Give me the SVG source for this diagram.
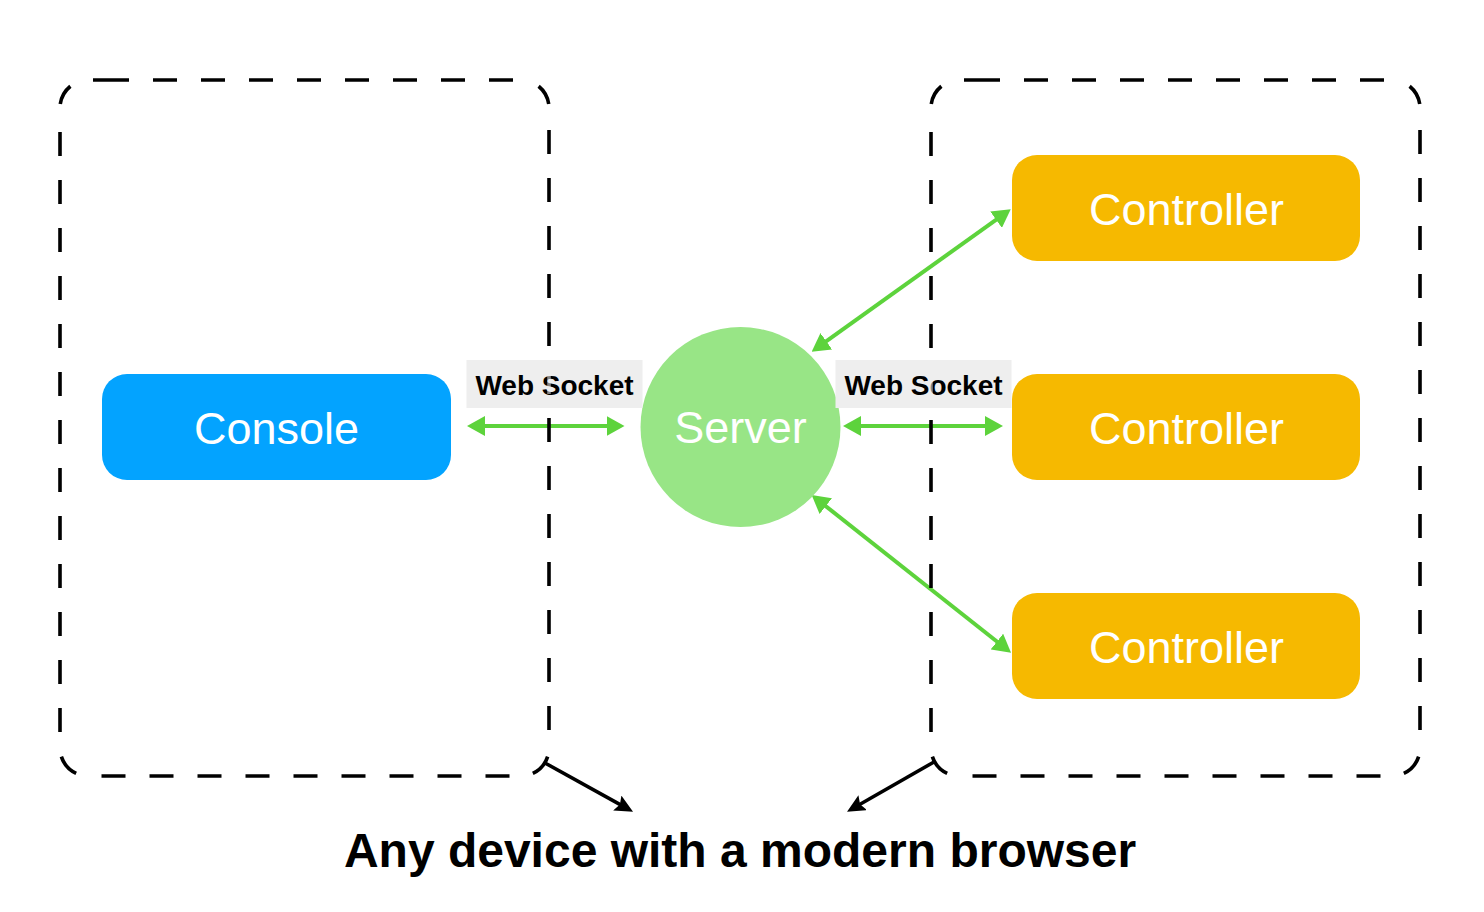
<svg xmlns="http://www.w3.org/2000/svg" xmlns:xlink="http://www.w3.org/1999/xlink" width="1484" height="912" viewBox="0 0 1484 912">
<style>
.box{fill:none;stroke:#000;stroke-width:3.6;stroke-linecap:butt}
.ws{fill:none;stroke:#5DD33C;stroke-width:4}
.bk{fill:none;stroke:#000;stroke-width:3.6}
.lbl{fill:#EEEEEE}
.lt{font-family:"Liberation Sans",Arial,sans-serif;font-weight:bold;font-size:28px;fill:#000;text-anchor:middle}
.nt{font-family:"Liberation Sans",Arial,sans-serif;font-size:45px;fill:#fff;text-anchor:middle}
.ghost{stroke:#EEEEEE;stroke-opacity:0.55;stroke-width:3.6}
</style>
<defs>
<marker id="gh" markerUnits="userSpaceOnUse" viewBox="0 0 18 20" markerWidth="18" markerHeight="20" refX="8" refY="10" orient="auto-start-reverse">
<path d="M0,0 L18,10 L0,20 Z" fill="#5DD33C"/>
</marker>
<marker id="bh" markerUnits="userSpaceOnUse" viewBox="0 0 18 17" markerWidth="18" markerHeight="17" refX="8" refY="8.5" orient="auto">
<path d="M0,0 L18,8.5 L0,17 L3,8.5 Z" fill="#000"/>
</marker>
<path id="dbox" class="box" d="M93,80H129 M153,80H177 M201,80H225 M249,80H273 M297,80H321 M345,80H369 M393,80H417 M441,80H465 M489,80H513
M60,132V156 M60,180V204 M60,228V252 M60,276V300 M60,324V348 M60,372V396 M60,420V444 M60,468V492 M60,516V540 M60,564V588 M60,612V636 M60,660V684 M60,708V732
M549,130V154 M549,178V202 M549,226V250 M549,274V298 M549,322V346 M549,370V394 M549,418V442 M549,466V490 M549,514V538 M549,562V586 M549,610V634 M549,658V682 M549,706V730
M101.5,776H125.5 M149.5,776H173.5 M197.5,776H221.5 M245.5,776H269.5 M293.5,776H317.5 M341.5,776H365.5 M389.5,776H413.5 M437.5,776H461.5 M485.5,776H509.5
M60.27,104.1 A28,28 0 0 1 70.39,86.24
M538.61,86.24 A28,28 0 0 1 548.73,104.1
M76.17,773.38 A28,28 0 0 1 61.37,756.65
M547.63,756.65 A28,28 0 0 1 532.83,773.38"/>
</defs>
<rect width="1484" height="912" fill="#fff"/>

<g id="connectors">
<line class="ws" x1="477" y1="426" x2="614.5" y2="426" marker-start="url(#gh)" marker-end="url(#gh)"/>
<line class="ws" x1="853" y1="426" x2="993" y2="426" marker-start="url(#gh)" marker-end="url(#gh)"/>
<line class="ws" x1="819.8" y1="345.9" x2="1002.6" y2="215.1" marker-start="url(#gh)" marker-end="url(#gh)"/>
<line class="ws" x1="819.5" y1="501.2" x2="1003.2" y2="646.5" marker-start="url(#gh)" marker-end="url(#gh)"/>
<line class="bk" x1="545" y1="763" x2="624.3" y2="806.9" marker-end="url(#bh)"/>
<line class="bk" x1="934" y1="762" x2="855.7" y2="806.7" marker-end="url(#bh)"/>
</g>

<g id="device-left">
<use xlink:href="#dbox" href="#dbox"/>
</g>
<g id="device-right">
<use xlink:href="#dbox" href="#dbox" transform="translate(871,0)"/>
</g>

<g id="console">
<rect x="102" y="374" width="349" height="106" rx="25" ry="25" fill="#03A3FF"/>
<text class="nt" x="276.5" y="443.5">Console</text>
</g>

<g id="server">
<circle cx="740.5" cy="427" r="100" fill="#98E586"/>
<text class="nt" x="740.5" y="443">Server</text>
</g>

<g id="controller-1">
<rect x="1012" y="155" width="348" height="106" rx="25" ry="25" fill="#F6B900"/>
<text class="nt" x="1186.5" y="224.5">Controller</text>
</g>
<g id="controller-2">
<rect x="1012" y="374" width="348" height="106" rx="25" ry="25" fill="#F6B900"/>
<text class="nt" x="1186.5" y="443.5">Controller</text>
</g>
<g id="controller-3">
<rect x="1012" y="593" width="348" height="106" rx="25" ry="25" fill="#F6B900"/>
<text class="nt" x="1186.5" y="662.5">Controller</text>
</g>

<g id="label-left">
<rect class="lbl" x="466.5" y="360" width="176" height="48"/>
<text class="lt" x="554.5" y="395">Web Socket</text>
<line class="ghost" x1="549" y1="370" x2="549" y2="394"/>
</g>
<g id="label-right">
<rect class="lbl" x="835.5" y="360" width="176" height="48"/>
<text class="lt" x="923.5" y="395">Web Socket</text>
<line class="ghost" x1="931" y1="372" x2="931" y2="396"/>
</g>

<g id="caption">
<text x="740" y="867" font-family="'Liberation Sans',Arial,sans-serif" font-weight="bold" font-size="48" fill="#000" text-anchor="middle">Any device with a modern browser</text>
</g>
</svg>
